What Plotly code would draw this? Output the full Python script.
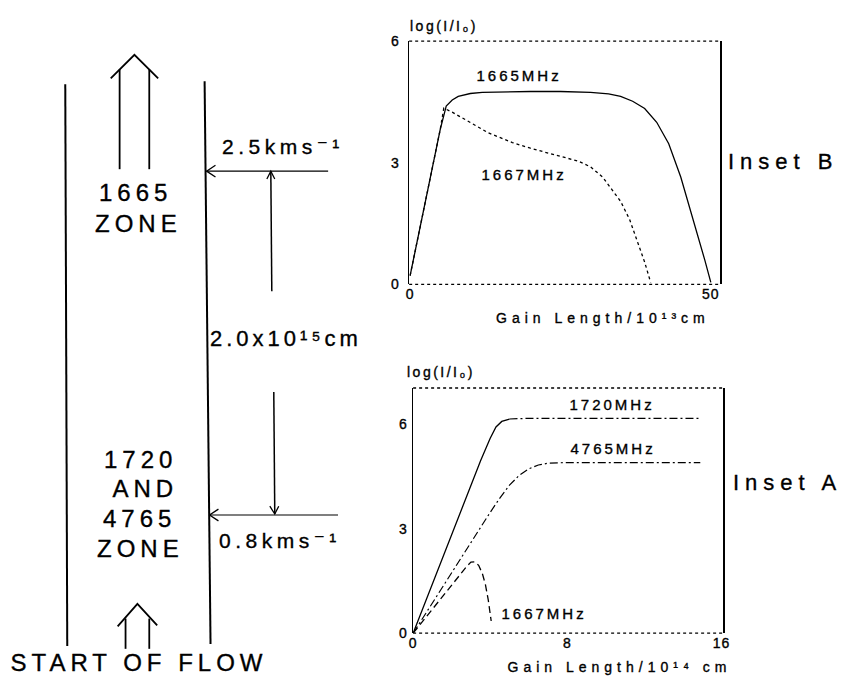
import plotly.graph_objects as go

W, H = 848, 692

# ---------------- data ----------------
# Inset B : 1665 / 1667 MHz, gain length in 1e13 cm
b_x_1665 = [0, 1, 2, 3, 4, 5, 6, 7, 8, 10, 12, 15, 20, 25, 30, 33, 35, 37, 39, 41, 43, 45, 47, 49, 50]
b_y_1665 = [0.22, 0.94, 1.66, 2.38, 3.10, 3.82, 4.40, 4.55, 4.64, 4.71, 4.74, 4.75, 4.76, 4.76, 4.74,
            4.70, 4.64, 4.52, 4.34, 4.00, 3.47, 2.65, 1.65, 0.60, 0.05]
b_x_1667 = [0, 1, 2, 3, 4, 5, 5.6, 7, 9, 11, 13, 15, 17, 20, 23, 26, 28, 30, 32, 33.5, 35, 36.5, 38, 39, 40]
b_y_1667 = [0.22, 0.94, 1.66, 2.38, 3.10, 3.82, 4.35, 4.25, 4.08, 3.90, 3.74, 3.62, 3.50, 3.36, 3.24,
            3.13, 3.04, 2.90, 2.65, 2.35, 2.05, 1.60, 1.00, 0.55, 0.05]

# Inset A : 1720 / 4765 / 1667 MHz, gain length in 1e14 cm
a_x_1720 = [0, 1, 2, 3, 3.5, 4.0, 4.3, 4.6, 5.0, 5.5, 6, 8, 10, 12, 14, 14.9]
a_y_1720 = [0, 1.42, 2.83, 4.25, 4.95, 5.60, 5.92, 6.08, 6.15, 6.17, 6.17, 6.17, 6.17, 6.17, 6.17, 6.17]
a_x_4765 = [0, 1, 2, 3, 4, 4.5, 5, 5.5, 6, 6.5, 7, 8, 10, 12, 14, 14.9]
a_y_4765 = [0, 0.87, 1.74, 2.62, 3.47, 3.88, 4.25, 4.53, 4.72, 4.83, 4.88, 4.90, 4.90, 4.90, 4.90, 4.90]
a_x_1667 = [0, 0.5, 1, 1.5, 2, 2.5, 2.8, 3.0, 3.2, 3.4, 3.6, 3.75, 3.9, 4.05]
a_y_1667 = [0, 0.35, 0.69, 1.04, 1.38, 1.72, 1.93, 2.04, 2.05, 1.95, 1.70, 1.40, 0.95, 0.35]

b_xticks = [0, 50]
b_yticks = [0, 3, 6]
a_xticks = [0, 8, 16]
a_yticks = [0, 3, 6]
a_1720_break = 5.0  # solid rise, then dash-dot plateau

FONT = "Liberation Sans, Arial, Helvetica, DejaVu Sans, sans-serif"
INK = "#000000"


def px(x):
    return x / W


def py(y):
    return 1 - y / H


fig = go.Figure()

# Inset B traces
fig.add_trace(go.Scatter(x=b_x_1665, y=b_y_1665, mode="lines", xaxis="x", yaxis="y",
                         line=dict(color=INK, width=1.3), name="1665MHz"))
fig.add_trace(go.Scatter(x=b_x_1667, y=b_y_1667, mode="lines", xaxis="x", yaxis="y",
                         line=dict(color=INK, width=1.3, dash="dot"), name="1667MHz"))

# Inset A traces
k = a_x_1720.index(a_1720_break)
fig.add_trace(go.Scatter(x=a_x_1720[:k + 1], y=a_y_1720[:k + 1], mode="lines", xaxis="x2", yaxis="y2",
                         line=dict(color=INK, width=1.3), name="1720MHz"))
fig.add_trace(go.Scatter(x=a_x_1720[k:], y=a_y_1720[k:], mode="lines", xaxis="x2", yaxis="y2",
                         line=dict(color=INK, width=1.2, dash="8px,3px,2px,3px"), name="1720MHz plateau"))
fig.add_trace(go.Scatter(x=a_x_4765, y=a_y_4765, mode="lines", xaxis="x2", yaxis="y2",
                         line=dict(color=INK, width=1.2, dash="8px,3px,2px,3px"), name="4765MHz"))
fig.add_trace(go.Scatter(x=a_x_1667, y=a_y_1667, mode="lines", xaxis="x2", yaxis="y2",
                         line=dict(color=INK, width=1.3, dash="7px,4px"), name="1667MHz A"))

tickfont = dict(family=FONT, size=14, color=INK)
common_x = dict(showgrid=False, zeroline=False, showline=False, ticks="", tickfont=tickfont, fixedrange=True)
common_y = dict(showgrid=False, zeroline=False, showline=True, mirror=True, linecolor=INK, linewidth=1.5,
                ticks="", tickfont=tickfont, fixedrange=True)

fig.update_layout(
    width=W, height=H,
    margin=dict(l=0, r=0, t=0, b=0),
    paper_bgcolor="white", plot_bgcolor="white",
    showlegend=False,
    font=dict(family=FONT, color=INK),
    xaxis=dict(domain=[px(410), px(725)], range=[-0.16, 51.6], tickvals=b_xticks, anchor="y", **common_x),
    yaxis=dict(domain=[py(283), py(34)], range=[0, 6], tickvals=b_yticks, anchor="x",
               ticklabelstandoff=5, **common_y),
    xaxis2=dict(domain=[px(414), px(728)], range=[0, 16.1], tickvals=a_xticks, anchor="y2", **common_x),
    yaxis2=dict(domain=[py(640), py(389)], range=[0, 7.04], tickvals=a_yticks, anchor="x2",
                ticklabelstandoff=1, **common_y),
)

shapes = []
# dotted top / bottom frame lines of the insets
for xr, yr in (("x domain", "y domain"), ("x2 domain", "y2 domain")):
    for yv in (0, 1):
        shapes.append(dict(type="line", xref=xr, yref=yr, x0=0, x1=1, y0=yv, y1=yv,
                           line=dict(color=INK, width=1.3, dash="dot")))


def seg(x0, y0, x1, y1, w=1.6):
    shapes.append(dict(type="line", xref="paper", yref="paper", x0=px(x0), y0=py(y0), x1=px(x1), y1=py(y1),
                       line=dict(color=INK, width=w)))


def chev(p, w=1.6):
    path = "M " + " L ".join(f"{px(a):.5f},{py(b):.5f}" for a, b in p)
    shapes.append(dict(type="path", xref="paper", yref="paper", path=path, line=dict(color=INK, width=w)))


# flow tube walls
seg(62, 78, 64, 653, 2.0)
seg(203, 75, 209, 651, 2.0)
# top outflow arrow
seg(117, 63, 117, 165, 1.8)
seg(147, 63, 147, 165, 1.8)
chev([(108, 72), (132, 48), (156, 72)], 1.8)
# 2.5 km/s marker
seg(205, 167, 328, 167, 1.2)
chev([(214, 161), (205, 167), (214, 173)], 1.3)
# distance arrows
seg(270, 167, 271, 290, 1.5)
chev([(266, 175), (270, 167), (274, 175)], 1.3)
seg(273, 393, 274, 518, 1.5)
chev([(269, 510), (274, 518), (278, 510)], 1.3)
# 0.8 km/s marker
seg(208, 519, 338, 519, 1.2)
chev([(217, 513), (208, 519), (217, 525)], 1.3)
# bottom inflow arrow
seg(123, 625, 123, 656, 1.8)
seg(147, 625, 147, 656, 1.8)
chev([(115, 633), (135, 610), (155, 632)], 1.8)

fig.update_layout(shapes=shapes)

# annotations: (text, x, y, size, letter-spacing px, xanchor)
labels = [
    ("1665", 133, 189, 24, 5, "center"),
    ("ZONE", 136, 221, 24, 5, "center"),
    ("1720", 138, 462, 24, 5, "center"),
    ("AND", 143, 492, 24, 5, "center"),
    ("4765", 137, 523, 24, 5, "center"),
    ("ZONE", 138, 553, 24, 5, "center"),
    ("START OF FLOW", 137, 670, 24, 5, "center"),
    ("2.5kms⁻¹", 219, 142, 21, 4.5, "left"),
    ("2.0x10¹⁵cm", 206, 338, 22, 4, "left"),
    ("0.8kms⁻¹", 216, 545, 21, 4.5, "left"),
    ("Inset B", 731, 157, 22, 6, "left"),
    ("Inset A", 736, 486, 22, 6, "left"),
    ("log(I/I₀)", 409, 18, 14, 2.5, "left"),
    ("log(I/I₀)", 406, 373, 14, 2.5, "left"),
    ("1665MHz", 521, 69, 15, 3, "center"),
    ("1667MHz", 526, 170, 15, 3, "center"),
    ("1720MHz", 615, 406, 15, 3, "center"),
    ("4765MHz", 616, 451, 15, 3, "center"),
    ("1667MHz", 546, 620, 15, 3, "center"),
    ("Gain Length/10¹³cm", 606, 317, 14, 5, "center"),
    ("Gain Length/10¹⁴ cm", 623, 675, 14, 5, "center"),
]

annotations = []
css = ["html, body { margin: 0 !important; padding: 0 !important; overflow: hidden; }",
       ".annotation-text, .xtick text, .ytick text, .x2tick text, .y2tick text "
       "{ stroke: #000; stroke-width: 0.35px; }"]
for i, (txt, x, y, size, ls, xa) in enumerate(labels):
    annotations.append(dict(text=txt, x=px(x), y=py(y), xref="paper", yref="paper", showarrow=False,
                            xanchor=xa, yanchor="middle", align="left" if xa == "left" else "center",
                            font=dict(family=FONT, size=size, color=INK)))
    css.append(f'g.annotation[data-index="{i}"] text {{ letter-spacing: {ls}px; }}')
css.append(".xtick text, .x2tick text, .ytick text, .y2tick text { letter-spacing: 1px; }")
fig.update_layout(annotations=annotations)

post = ("var s=document.createElement('style');s.innerHTML=" + repr("\n".join(css)) +
        ";document.head.appendChild(s);document.body.style.margin='0';")

fig.write_html("out.html", post_script=post, config={"staticPlot": True})
